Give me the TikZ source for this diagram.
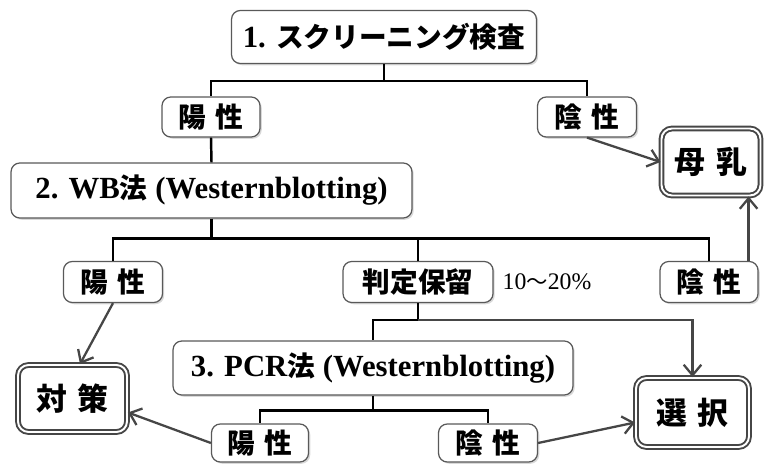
\documentclass[tikz,border=0pt]{standalone}
\usepackage{fontspec}
\setmainfont{Liberation Serif}
\newfontfamily\cjk[Scale=0.9]{Noto Sans CJK JP}
\usepackage{tikz}
\usetikzlibrary{positioning, arrows.meta, shadows}

\begin{document}
\begin{tikzpicture}[
    x=0.02cm, y=-0.02cm,
    box/.style={rectangle, rounded corners=5pt, draw=gray!70!black, line width=0.7pt, fill=white,
        drop shadow={shadow xshift=1pt, shadow yshift=-1pt, opacity=0.3},
        font=\fontsize{17.5}{20}\selectfont\bfseries, inner sep=0pt},
    endbox/.style={rectangle, rounded corners=6pt, draw=gray!55!black, line width=1.1pt,
        double=white, double distance=1.1pt, fill=white,
        drop shadow={shadow xshift=1pt, shadow yshift=-1pt, opacity=0.3},
        font=\fontsize{19.5}{22}\selectfont\bfseries, inner sep=0pt},
    tree/.style={line width=1.4pt, black},
    arr/.style={line width=1.3pt, gray!55!black, -{Straight Barb[length=6pt, width=10pt, line width=1.3pt]}}
]
\useasboundingbox (0,0) rectangle (764,466);

\node[box, minimum width=6.1cm, minimum height=1.06cm] (scr) at (384,37) {1. {\cjk スクリーニング検査}};
\node[box, minimum width=1.96cm, minimum height=0.8cm] (pos1) at (211,117) {\cjk 陽\hspace{0.35em}性};
\node[box, minimum width=1.98cm, minimum height=0.8cm] (neg1) at (587,117) {\cjk 陰\hspace{0.35em}性};
\node[endbox, minimum width=1.98cm, minimum height=1.34cm] (milk) at (711,162) {\cjk 母\hspace{0.35em}乳};

\node[box, minimum width=8.02cm, minimum height=1.1cm] (wb) at (211.5,190.5) {2. WB{\cjk 法} (Westernblotting)};
\node[box, minimum width=1.98cm, minimum height=0.82cm] (pos2) at (113,282) {\cjk 陽\hspace{0.35em}性};
\node[box, minimum width=3cm, minimum height=0.82cm] (hold) at (418,282) {\cjk 判定保留};
\node[font=\fontsize{13.5}{15}\selectfont] (pct) at (547,282) {10{\cjk 〜}20\%};
\node[box, minimum width=1.96cm, minimum height=0.82cm] (neg2) at (709,282) {\cjk 陰\hspace{0.35em}性};

\node[box, minimum width=8cm, minimum height=1.08cm] (pcr) at (373,368) {3. PCR{\cjk 法} (Westernblotting)};
\node[box, minimum width=1.94cm, minimum height=0.76cm] (pos3) at (260,443) {\cjk 陽\hspace{0.35em}性};
\node[box, minimum width=1.98cm, minimum height=0.76cm] (neg3) at (488,443) {\cjk 陰\hspace{0.35em}性};
\node[endbox, minimum width=2.18cm, minimum height=1.34cm] (meas) at (72.5,398.5) {\cjk 対\hspace{0.35em}策};
\node[endbox, minimum width=2.26cm, minimum height=1.38cm] (sel) at (692.5,412.5) {\cjk 選\hspace{0.35em}択};

\draw[tree] (scr.south) -- ++(0,17) coordinate (b1);
\draw[tree] (b1) -| (pos1.north);
\draw[tree] (b1) -| (neg1.north);
\draw[tree] (pos1.south) -- (wb.north);
\draw[tree] (wb.south) -- ++(0,20) coordinate (b2);
\draw[tree] (b2) -| (pos2.north);
\draw[tree] (b2) -| (hold.north);
\draw[tree] (b2) -| (neg2.north);
\draw[tree] (hold.south) -- ++(0,17) coordinate (b3);
\draw[tree] (b3) -| (pcr.north);
\draw[tree] (pcr.south) -- ++(0,15) coordinate (b4);
\draw[tree] (b4) -| (pos3.north);
\draw[tree] (b4) -| (neg3.north);

\draw[arr] (neg1.south) -- (milk.west);
\draw[arr] ([xshift=-0.2cm]neg2.north east) -- ([xshift=-0.2cm]neg2.north east |- milk.south);
\draw[arr] (pos2.south) -- ([xshift=0.15cm]meas.north);
\draw[arr] (pos3.west) -- ([yshift=-0.28cm]meas.east);
\draw[arr] (b3) -| (sel.north);
\draw[arr] (neg3.east) -- ([yshift=-0.2cm]sel.west);

\end{tikzpicture}
\end{document}
